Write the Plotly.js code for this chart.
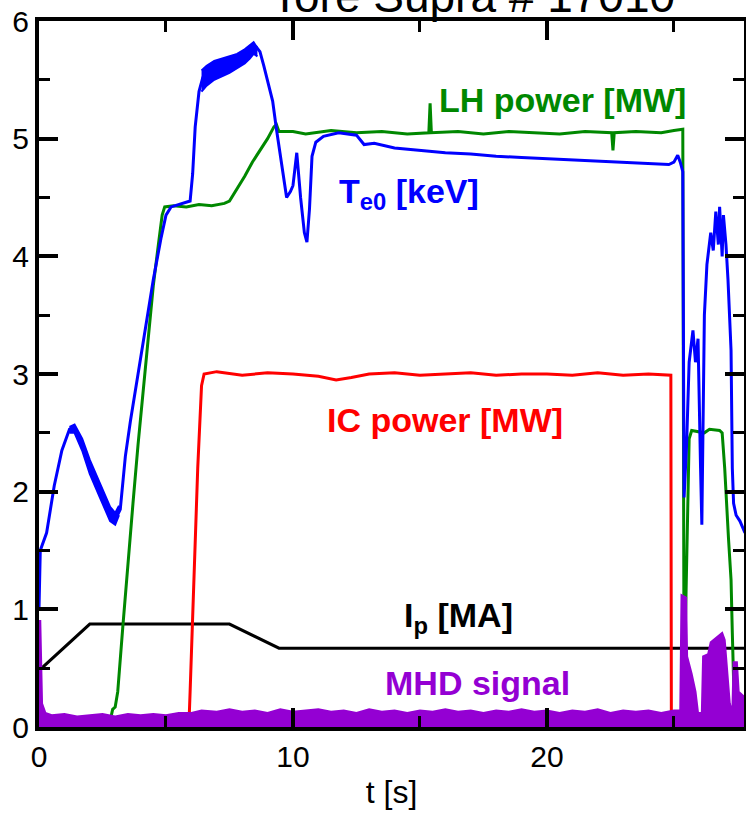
<!DOCTYPE html>
<html>
<head>
<meta charset="utf-8">
<script src="https://cdn.plot.ly/plotly-3.0.1.min.js"></script>
<style>html,body{margin:0;padding:0;background:#fff;}#chart{width:746px;height:813px;}</style>
</head>
<body>
<div id="chart"></div>
<script>
// Central electron temperature Te0 [keV]
const teT = [0,0.05,0.3,0.6,0.9,1.2,1.4,1.7,2.0,2.4,2.8,3.0,3.2,3.4,3.6,3.9,4.2,4.5,4.8,5.0,5.2,5.6,5.95,6.05,6.15,6.3,6.45,
  6.7,7.0,7.3,7.6,7.9,8.2,8.4,8.55,8.7,8.85,9.0,9.2,9.35,9.5,9.65,9.75,9.9,10.0,10.15,10.3,10.45,10.55,10.65,10.75,10.9,11.2,11.8,12.5,12.8,13.2,14.0,15.0,16.0,17.0,18.0,19.0,20.0,21.0,22.0,23.0,24.0,24.8,25.0,25.15,25.25,25.35,
  25.4,25.5,25.6,25.75,25.85,25.95,26.05,26.1,26.2,26.3,26.45,26.55,26.65,26.75,26.8,26.9,26.95,27.05,27.13,27.25,27.3,27.35,27.45,27.6,27.8];
const teV = [1.0,1.5,1.65,2.05,2.35,2.53,2.54,2.4,2.2,2.0,1.8,1.76,1.85,2.3,2.6,3.0,3.4,3.8,4.15,4.35,4.42,4.45,4.47,4.7,5.1,5.4,5.52,
  5.55,5.59,5.61,5.64,5.67,5.71,5.79,5.78,5.74,5.62,5.5,5.32,5.08,4.85,4.62,4.5,4.55,4.6,4.88,4.5,4.2,4.12,4.4,4.85,4.97,5.02,5.05,5.03,4.95,4.96,4.92,4.9,4.88,4.87,4.85,4.84,4.83,4.82,4.81,4.8,4.79,4.78,4.8,4.86,4.8,4.72,
  1.95,2.4,3.1,3.37,3.1,3.3,2.2,1.72,3.5,3.93,4.2,4.05,4.38,4.1,4.42,4.0,4.35,4.1,3.8,3.2,2.2,1.9,1.8,1.75,1.65];
// Te0 noisy bands (lower / upper envelope)
const teBand1T = [1.2,1.4,1.7,2.0,2.4,2.8,3.0,3.15];
const teBand1Lo = [2.5,2.5,2.35,2.15,1.95,1.75,1.72,1.8];
const teBand1Hi = [2.55,2.57,2.45,2.27,2.07,1.87,1.82,1.88];
const teBand2T = [6.4,6.6,6.9,7.2,7.5,7.8,8.1,8.3,8.45,8.6];
const teBand2Lo = [5.4,5.45,5.5,5.53,5.56,5.6,5.64,5.68,5.72,5.7];
const teBand2Hi = [5.58,5.62,5.66,5.68,5.7,5.72,5.76,5.79,5.82,5.77];

// LH power [MW]
const lhT = [0,2.75,2.8,2.9,3.0,3.1,3.3,3.5,3.7,3.9,4.1,4.3,4.5,4.7,4.85,4.95,5.3,5.8,6.3,6.8,7.3,7.5,7.8,8.1,8.4,8.7,9.0,9.25,9.35,9.45,
  10.0,10.5,11.5,12.5,13.5,14.5,15.35,15.4,15.45,16.5,17.5,18.5,19.5,20.5,21.5,22.55,22.6,22.65,23.5,24.5,25.0,25.35,
  25.4,25.45,25.52,25.6,25.7,26.2,26.4,26.8,26.9,27.0,27.15,27.25,27.3,27.35,27.42,27.5,27.8];
const lhV = [0,0,0.05,0.15,0.17,0.3,0.85,1.4,1.9,2.4,2.85,3.3,3.75,4.1,4.35,4.42,4.43,4.42,4.44,4.43,4.45,4.47,4.57,4.68,4.8,4.9,5.0,5.1,5.12,5.06,
  5.06,5.04,5.07,5.05,5.06,5.04,5.05,5.3,5.05,5.06,5.04,5.06,5.05,5.04,5.06,5.05,4.9,5.05,5.06,5.05,5.07,5.08,
  0.3,0.8,1.7,2.45,2.52,2.5,2.53,2.52,2.5,2.2,1.6,1.25,0.8,0.4,0.15,0.05,0.0];

// IC power [MW]
const icT = [0,5.9,5.95,6.1,6.25,6.4,6.5,7,8,9,10,11,11.7,12.3,13,14,15,16,17,18,19,20,21,22,23,24,24.88,24.9,27.8];
const icV = [0,0,0.3,1.3,2.2,2.9,3.0,3.02,2.99,3.01,3.0,2.98,2.95,2.97,3.0,3.01,2.99,3.0,3.01,2.99,3.0,3.0,2.99,3.01,2.99,3.0,2.99,0.02,0.02];

// Plasma current Ip [MA]
const ipT = [0,2.0,7.5,9.45,27.8];
const ipV = [0.48,0.875,0.875,0.67,0.67];

// MHD signal (arb.)
const mhdT = [0,0.05,0.12,0.25,0.5,1,1.5,2,2.5,3,3.5,4,4.5,5,5.5,6,6.4,7,7.5,8,8.5,9,9.5,10,10.5,11,11.5,12,12.5,13,13.5,14,14.5,15,15.5,16,16.5,17,17.5,18,18.5,19,19.5,20,20.5,21,21.5,22,22.5,23,23.5,24,24.5,25,25.25,
  25.3,25.48,25.52,25.7,25.85,25.95,26.1,26.15,26.35,26.45,26.7,26.9,27.0,27.1,27.2,27.3,27.35,27.48,27.55,27.8];
const mhdV = [0.9,0.9,0.2,0.12,0.1,0.11,0.09,0.1,0.11,0.09,0.11,0.1,0.11,0.1,0.12,0.12,0.14,0.13,0.15,0.13,0.14,0.12,0.15,0.13,0.14,0.15,0.13,0.14,0.12,0.15,0.13,0.14,0.12,0.14,0.13,0.15,0.13,0.14,0.12,0.14,0.13,0.15,0.13,0.14,0.12,0.14,0.13,0.15,0.12,0.14,0.13,0.14,0.12,0.14,0.14,
  1.12,1.1,0.6,0.45,0.3,0.12,0.12,0.6,0.62,0.72,0.76,0.8,0.74,0.5,0.2,0.12,0.55,0.55,0.3,0.25];

const xTickVals = [0,10,20];
const yTickVals = [0,1,2,3,4,5,6];
const titleText = 'Tore Supra # 17010';

const BLUE = '#0000ff';
const traces = [
  {x: ipT, y: ipV, mode: 'lines', line: {color: '#000000', width: 3}},
  {x: lhT, y: lhV, mode: 'lines', line: {color: '#008800', width: 3}},
  {x: icT, y: icV, mode: 'lines', line: {color: '#ff0000', width: 3}},
  {x: teBand1T, y: teBand1Lo, mode: 'lines', line: {color: BLUE, width: 2}},
  {x: teBand1T, y: teBand1Hi, mode: 'lines', fill: 'tonexty', fillcolor: BLUE, line: {color: BLUE, width: 2}},
  {x: teBand2T, y: teBand2Lo, mode: 'lines', line: {color: BLUE, width: 2}},
  {x: teBand2T, y: teBand2Hi, mode: 'lines', fill: 'tonexty', fillcolor: BLUE, line: {color: BLUE, width: 2}},
  {x: teT, y: teV, mode: 'lines', line: {color: BLUE, width: 3}},
  {x: mhdT, y: mhdV, mode: 'lines', fill: 'tozeroy', fillcolor: '#9400d3', line: {color: '#9400d3', width: 2}}
];

const axisCommon = {
  showline: true, linecolor: '#000', linewidth: 4, mirror: 'ticks',
  ticks: 'inside', ticklen: 19, tickwidth: 4, tickcolor: '#000',
  showgrid: false, zeroline: false,
  tickfont: {family: 'Liberation Sans, Arial, sans-serif', size: 30, color: '#000'}
};

const layout = {
  width: 746, height: 813,
  margin: {l: 39, r: 2, t: 21, b: 86},
  paper_bgcolor: '#fff', plot_bgcolor: '#fff',
  showlegend: false,
  xaxis: Object.assign({}, axisCommon, {
    range: [0, 27.76], tickmode: 'array', tickvals: xTickVals, ticktext: xTickVals.map(String),
    minor: {dtick: 5, ticklen: 11, tickwidth: 3, tickcolor: '#000', ticks: 'inside'},
    title: {text: 't [s]', font: {family: 'Liberation Sans, Arial, sans-serif', size: 32, color: '#000'}, standoff: 10}
  }),
  yaxis: Object.assign({}, axisCommon, {
    range: [0, 6], tickmode: 'array', tickvals: yTickVals, ticktext: yTickVals.map(String),
    minor: {dtick: 0.5, ticklen: 11, tickwidth: 3, tickcolor: '#000', ticks: 'inside'}
  }),
  annotations: [
    {xref: 'paper', yref: 'paper', x: 0.6156, y: 1.036, yanchor: 'middle', xanchor: 'center', showarrow: false,
     text: titleText, font: {family: 'Liberation Sans, Arial, sans-serif', size: 46, color: '#000'}},
    {x: 20.6, y: 5.33, text: '<b>LH power [MW]</b>', showarrow: false, font: {family: 'Liberation Sans, Arial, sans-serif', size: 34, color: '#008800'}},
    {x: 11.75, y: 4.53, xanchor: 'left', text: '<b>T<sub>e0</sub> [keV]</b>', showarrow: false, font: {family: 'Liberation Sans, Arial, sans-serif', size: 34, color: '#0000ff'}},
    {x: 16.0, y: 2.61, text: '<b>IC power [MW]</b>', showarrow: false, font: {family: 'Liberation Sans, Arial, sans-serif', size: 34, color: '#ff0000'}},
    {x: 14.3, y: 0.93, xanchor: 'left', text: '<b>I<sub>p</sub> [MA]</b>', showarrow: false, font: {family: 'Liberation Sans, Arial, sans-serif', size: 34, color: '#000'}},
    {x: 17.25, y: 0.37, text: '<b>MHD signal</b>', showarrow: false, font: {family: 'Liberation Sans, Arial, sans-serif', size: 34, color: '#9400d3'}}
  ]
};

Plotly.newPlot('chart', traces, layout, {displayModeBar: false, staticPlot: true});
</script>
</body>
</html>
